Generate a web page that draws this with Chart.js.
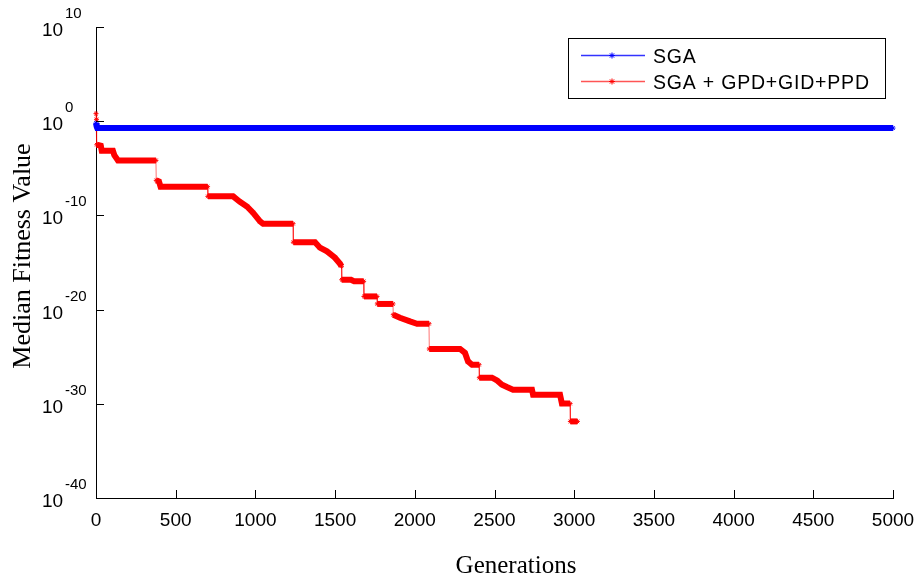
<!DOCTYPE html>
<html>
<head>
<meta charset="utf-8">
<script src="https://cdn.jsdelivr.net/npm/chart.js@4"></script>
<style>
  html, body { margin: 0; padding: 0; background: #fff; }
  #wrap { width: 923px; height: 581px; }
</style>
</head>
<body>
<div id="wrap"><canvas id="chart" width="923" height="581"></canvas></div>
<script>
// x ticks (generations) and y ticks (powers of ten)
const genTicks = [0, 500, 1000, 1500, 2000, 2500, 3000, 3500, 4000, 4500, 5000]
const yExponents = [10, 0, -10, -20, -30, -40]

// SGA: median fitness, stored as log10 values
const sgaGen = [0, 4, 8, 5000]
const sgaLog10 = [-0.2, -0.55, -0.73, -0.73]

// SGA + GPD+GID+PPD, stored as log10 values
const hybridGen = [0, 3, 5, 30, 36, 106, 115, 138, 376, 378,
  395, 405, 700, 702, 860, 903, 947, 985, 1029, 1048,
  1236, 1238, 1374, 1405, 1449, 1499, 1531, 1540, 1542, 1600,
  1620, 1679, 1681, 1763, 1765, 1863, 1865, 1907, 1970, 2014,
  2089, 2091, 2284, 2315, 2334, 2359, 2403, 2405, 2484, 2516,
  2547, 2578, 2616, 2735, 2742, 2911, 2923, 2974, 2976, 3020]
const hybridLog10 = [0.8, 0.2, -2.5, -2.6, -3.13, -3.13, -3.6, -4.16, -4.16, -6.28,
  -6.4, -6.95, -6.95, -7.98, -7.98, -8.55, -9.05, -9.71, -10.64, -10.88,
  -10.88, -12.85, -12.85, -13.43, -13.82, -14.49, -15.13, -15.4, -16.83, -16.83,
  -17.0, -17.0, -18.6, -18.6, -19.4, -19.4, -20.54, -20.86, -21.25, -21.5,
  -21.5, -24.18, -24.18, -24.6, -25.5, -25.85, -25.85, -27.23, -27.23, -27.52,
  -27.97, -28.22, -28.5, -28.5, -29.03, -29.03, -29.98, -29.98, -31.87, -31.87]

const xTitle = 'Generations'
const yTitle = 'Median Fitness Value'

const SANS = '"Liberation Sans", Arial, sans-serif'
const SERIF = '"Liberation Serif", "Times New Roman", serif'

function toPoints(gens, logs){
  return gens.map((g, i) => ({x: g, y: Math.pow(10, logs[i])}))
}

// thick band for flats/slopes, thin line for the sudden drops
function bandSegment(color, thinColor){
  const isDrop = c => (c.p1.parsed.x - c.p0.parsed.x) <= 3
  return {
    borderWidth: c => isDrop(c) ? 1 : 6,
    borderColor: c => isDrop(c) ? thinColor : color
  }
}

const axisMarks = {
  id: 'axisMarks',
  afterDraw(chart){
    const {ctx, scales: {x, y}} = chart
    ctx.save()
    // inward tick marks
    ctx.strokeStyle = '#000'
    ctx.lineWidth = 1
    ctx.beginPath()
    yExponents.forEach(e => {
      const py = Math.round(y.getPixelForValue(Math.pow(10, e))) + 0.5
      ctx.moveTo(x.left, py)
      ctx.lineTo(x.left + 8, py)
    })
    genTicks.forEach(g => {
      const px = Math.round(x.getPixelForValue(g)) + 0.5
      ctx.moveTo(px, y.bottom)
      ctx.lineTo(px, y.bottom - 8)
    })
    ctx.stroke()

    // y tick labels with superscript exponent
    ctx.fillStyle = '#000'
    ctx.textAlign = 'left'
    ctx.textBaseline = 'alphabetic'
    yExponents.forEach(e => {
      const py = y.getPixelForValue(Math.pow(10, e))
      ctx.font = '19px ' + SANS
      ctx.fillText('10', 42, py + 9)
      ctx.font = '15px ' + SANS
      ctx.fillText(String(e), 65, py - 9)
    })

    // axis titles
    ctx.font = '25px ' + SERIF
    ctx.textAlign = 'center'
    ctx.textBaseline = 'middle'
    ctx.fillText(xTitle, 516, 566)
    ctx.save()
    ctx.translate(23, 256)
    ctx.rotate(-Math.PI / 2)
    ctx.font = '26px ' + SERIF
    ctx.fillText(yTitle, 0, 0)
    ctx.restore()

    // legend box
    const box = {l: 568.5, t: 38.5, w: 317, h: 60}
    ctx.fillStyle = '#fff'
    ctx.fillRect(box.l, box.t, box.w, box.h)
    ctx.strokeStyle = '#000'
    ctx.strokeRect(box.l, box.t, box.w, box.h)
    const rows = [55.5, 81.5]
    chart.data.datasets.forEach((ds, i) => {
      const ly = rows[i]
      ctx.strokeStyle = ds.legendLine
      ctx.lineWidth = 1.5
      ctx.beginPath()
      ctx.moveTo(581, ly)
      ctx.lineTo(645, ly)
      ctx.stroke()
      ctx.strokeStyle = ds.pointBorderColor
      ctx.lineWidth = 1
      ctx.beginPath()
      for(let k = 0; k < 4; k++){
        const a = k * Math.PI / 4
        ctx.moveTo(612 - 3 * Math.cos(a), ly - 3 * Math.sin(a))
        ctx.lineTo(612 + 3 * Math.cos(a), ly + 3 * Math.sin(a))
      }
      ctx.stroke()
      ctx.fillStyle = '#000'
      ctx.font = '19.5px ' + SANS
      ctx.letterSpacing = '0.8px'
      ctx.textAlign = 'left'
      ctx.textBaseline = 'middle'
      ctx.fillText(ds.label, 653, ly + 2)
      ctx.letterSpacing = '0px'
    })
    ctx.restore()
  }
}

const ctx = document.getElementById('chart').getContext('2d')
const chart = new Chart(ctx, {
  type: 'line',
  data: {
    datasets: [
      {
        label: 'SGA',
        data: toPoints(sgaGen, sgaLog10),
        borderColor: '#0000ff',
        legendLine: '#3333ff',
        segment: bandSegment('#0000ff', 'rgba(0,0,255,0.6)'),
        pointStyle: 'star',
        pointRadius: 2.5,
        pointBorderColor: '#0000ff',
        pointBackgroundColor: '#0000ff',
        borderCapStyle: 'butt',
        clip: false
      },
      {
        label: 'SGA + GPD+GID+PPD',
        data: toPoints(hybridGen, hybridLog10),
        borderColor: '#ff0000',
        legendLine: '#ff5555',
        segment: bandSegment('#ff0000', 'rgba(255,0,0,0.55)'),
        pointStyle: 'star',
        pointRadius: 2.5,
        pointBorderColor: '#ff0000',
        pointBackgroundColor: '#ff0000',
        borderCapStyle: 'butt',
        clip: false
      }
    ]
  },
  options: {
    responsive: false,
    animation: false,
    layout: {padding: {left: 0, right: 30, top: 27, bottom: 0}},
    plugins: {legend: {display: false}, tooltip: {enabled: false}},
    scales: {
      x: {
        type: 'linear',
        min: 0,
        max: 5000,
        afterBuildTicks: s => { s.ticks = genTicks.map(v => ({value: v})) },
        afterFit: s => { s.height = 83; s.paddingLeft = 0; s.paddingRight = 0 },
        grid: {display: false, drawTicks: false},
        border: {display: true, color: '#000', width: 1},
        ticks: {color: '#000', padding: 11, maxRotation: 0, font: {family: SANS, size: 19},
          callback: v => String(v)},
        title: {display: false}
      },
      y: {
        type: 'logarithmic',
        min: 1e-40,
        max: 1e10,
        afterBuildTicks: s => { s.ticks = yExponents.map(e => ({value: Math.pow(10, e)})) },
        afterFit: s => { s.width = 96 },
        grid: {display: false, drawTicks: false},
        border: {display: true, color: '#000', width: 1},
        ticks: {display: false},
        title: {display: false}
      }
    }
  },
  plugins: [axisMarks]
})
</script>
</body>
</html>
